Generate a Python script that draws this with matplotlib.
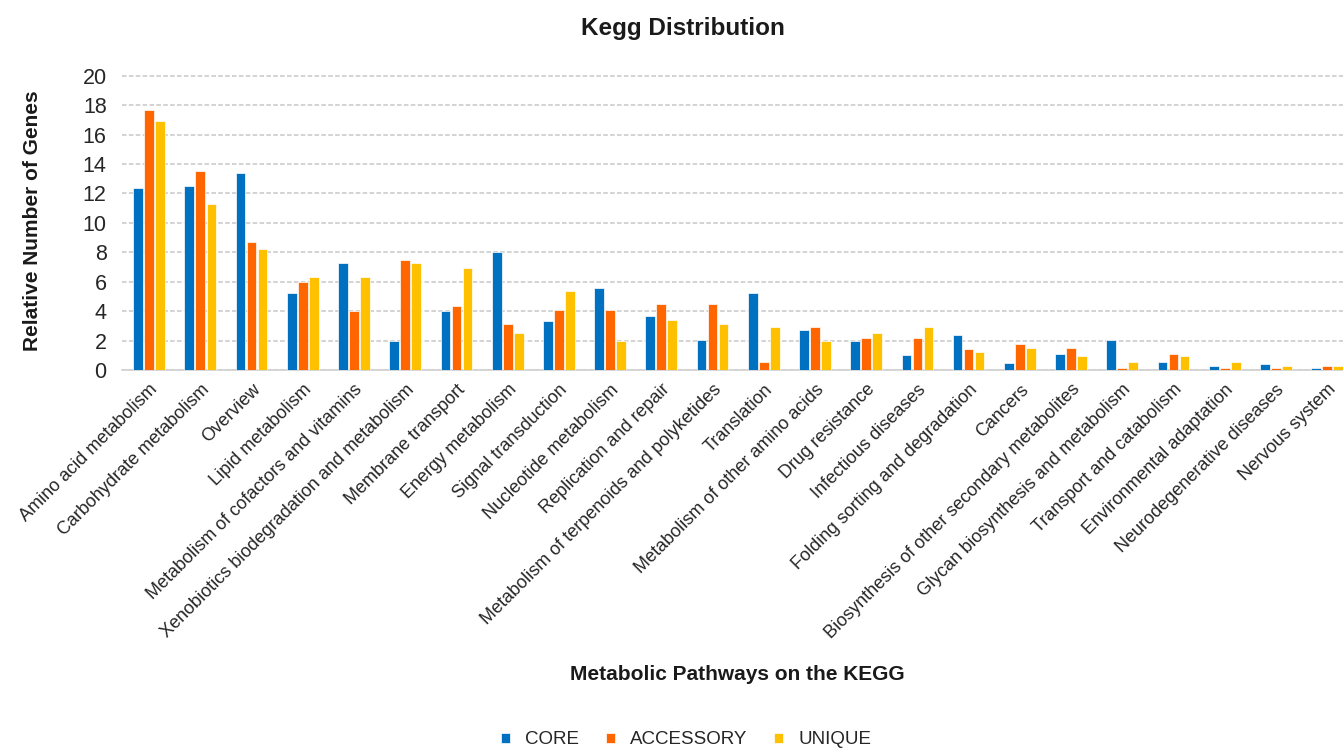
import matplotlib
matplotlib.use("Agg")
import matplotlib.pyplot as plt
import numpy as np

plt.rcParams['font.family'] = ['Liberation Sans', 'DejaVu Sans']

categories = [
    "Amino acid metabolism", "Carbohydrate metabolism", "Overview", "Lipid metabolism",
    "Metabolism of cofactors and vitamins", "Xenobiotics biodegradation and metabolism",
    "Membrane transport", "Energy metabolism", "Signal transduction",
    "Nucleotide metabolism", "Replication and repair",
    "Metabolism of terpenoids and polyketides", "Translation",
    "Metabolism of other amino acids", "Drug resistance", "Infectious diseases",
    "Folding sorting and degradation", "Cancers",
    "Biosynthesis of other secondary metabolites",
    "Glycan biosynthesis and metabolism", "Transport and catabolism",
    "Environmental adaptation", "Neurodegenerative diseases", "Nervous system",
]
core = [12.4, 12.5, 13.4, 5.2, 7.25, 1.95, 4.0, 8.05, 3.3, 5.6, 3.7, 2.05,
        5.2, 2.75, 1.95, 1.0, 2.35, 0.45, 1.1, 2.05, 0.57, 0.3, 0.43, 0.16]
accessory = [17.7, 13.5, 8.7, 6.0, 4.0, 7.5, 4.35, 3.15, 4.1, 4.1, 4.5, 4.5,
             0.57, 2.9, 2.2, 2.2, 1.4, 1.8, 1.5, 0.16, 1.1, 0.16, 0.16, 0.3]
unique = [16.9, 11.3, 8.2, 6.3, 6.3, 7.25, 6.95, 2.5, 5.35, 1.95, 3.4, 3.15,
          2.9, 1.95, 2.5, 2.9, 1.25, 1.5, 0.98, 0.57, 0.98, 0.57, 0.3, 0.3]
series_names = ["CORE", "ACCESSORY", "UNIQUE"]
colors = ["#0070C0", "#FF6600", "#FFC000"]

fig = plt.figure(figsize=(13.43, 7.49), dpi=100)
ymax = 20.1
ppu = (370 - 75.7) / 20
top_px = 370 - ymax * ppu
ax = fig.add_axes([122/1343, 1-370/749, 1-122/1343, (370-top_px)/749])

x = np.arange(len(categories))
off = 0.215
w = 0.19
for i, (vals, name, c) in enumerate(zip([core, accessory, unique], series_names, colors)):
    ax.bar(x + (i-1)*off, vals, width=w, color=c, edgecolor='white', linewidth=0.5,
           label=name, zorder=3)

ax.set_xlim(-0.53, 23.31)
ax.set_ylim(0, ymax)
ax.set_yticks(np.arange(0, 21, 2))
ax.yaxis.grid(True, color='#c8c8c8', linestyle=(0, (3, 1.5)), linewidth=1.1, zorder=0)
ax.set_axisbelow(True)
for s in ['top', 'right', 'left']:
    ax.spines[s].set_visible(False)
ax.spines['bottom'].set_color('#d0d0d0')
ax.spines['bottom'].set_linewidth(1.2)
ax.tick_params(axis='both', length=0)
ax.tick_params(axis='y', labelsize=15.5, colors='#262626', pad=11)

ax.set_xticks(x)
ax.set_xticklabels(categories, rotation=45, ha='right', va='top',
                   rotation_mode='anchor', fontsize=13, color='#262626')
ax.tick_params(axis='x', pad=8)

fig.text(683/1343, 1-28/749, "Kegg Distribution", ha='center', va='center',
         fontsize=17.5, fontweight='bold', color='#1a1a1a')
fig.text(33/1343, 1-221/749, "Relative Number of Genes", ha='center', va='center',
         rotation=90, fontsize=15, fontweight='bold', color='#1a1a1a')
fig.text(737/1343, 1-675/749, "Metabolic Pathways on the KEGG", ha='center', va='center',
         fontsize=15, fontweight='bold', color='#1a1a1a')

leg = fig.legend(loc='center', bbox_to_anchor=(686/1343, 1-740/749), ncol=3,
                 frameon=False, fontsize=13.5, handlelength=0.5, handleheight=0.5,
                 handletextpad=0.8, columnspacing=1.4)
for t in leg.get_texts():
    t.set_color('#262626')

fig.savefig("out.png", dpi=100)
